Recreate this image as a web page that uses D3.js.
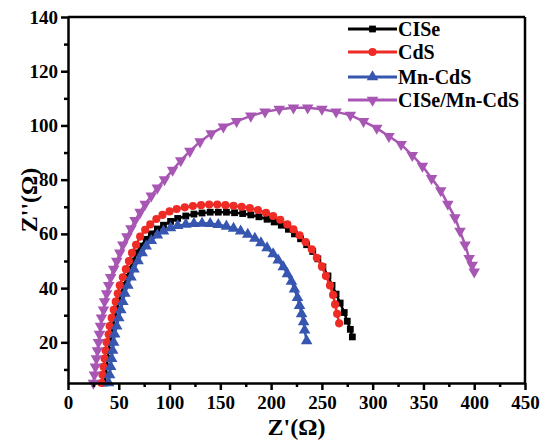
<!DOCTYPE html>
<html>
<head>
<meta charset="utf-8">
<script src="https://cdn.jsdelivr.net/npm/d3@7"></script>
<style>
  body { margin: 0; background: #fff; }
  svg { display: block; }
</style>
</head>
<body>
<div id="chart"></div>
<script>
// Nyquist data: [Z' (ohm), -Z'' (ohm)]
const ciseData = [[36,5],[37,8],[38,11],[39,14],[40,17],[41,20],[43,23],[44,26],[46,29],[48,32],[50,35],[52,38],[55,41],[58,44],[61,47],[64,50],[68,53],[72,55.5],[77,58],[82,60],[88,61.8],[94,63.2],[101,64.6],[108,65.7],[116,66.6],[124,67.3],[132,67.7],[140,68],[148,68],[156,68],[164,67.8],[172,67.5],[180,67],[188,66.3],[196,65.4],[203,64.4],[210,63.2],[217,61.7],[223,60],[229,58.2],[235,56],[241,53.5],[246,50.8],[251,47.8],[256,44.5],[260,41],[264,37.8],[268,34.5],[272,31],[275,27.8],[278,24.8],[280,22]];
const cdsData = [[33,5],[34,8],[35,11],[36,14],[37,17],[38,20],[40,23],[41,26],[43,29],[45,32],[47,35],[49,38],[51,41],[54,44],[57,47],[60,50],[63,53],[67,56],[71,59],[76,61.5],[81,63.5],[87,65.5],[93,67],[100,68.3],[107,69.2],[115,69.8],[123,70.3],[131,70.6],[139,70.8],[147,70.8],[155,70.6],[163,70.4],[171,70],[179,69.5],[187,68.8],[195,67.8],[202,66.6],[209,65.2],[216,63.5],[222,61.7],[228,59.5],[234,57],[240,54.3],[245,51.2],[250,48],[254,44.5],[258,41],[261,37.5],[263,34],[265,30.5],[267,27]];
const mnCdsData = [[40,5],[41,8],[42,11],[43,14],[44,17],[45,20],[46,23],[48,26],[50,29],[52,32],[54,35],[56,38],[59,41],[62,44],[65,47],[69,50],[73,53],[77,55.5],[82,57.5],[88,59.5],[94,61],[101,62.2],[108,63],[116,63.5],[124,63.8],[132,63.9],[140,63.8],[148,63.4],[156,62.8],[163,62],[170,61],[177,59.8],[184,58.3],[190,56.7],[196,54.8],[202,52.6],[207,50.3],[212,47.8],[216,45.2],[220,42.5],[223,39.6],[226,36.5],[228,33.5],[230,30.5],[232,27.5],[233,24.5],[235,20.5]];
const ciseMnCdsData = [[25,5],[26,8],[27,11],[28,14],[29,17],[30,20],[31,23],[32,26],[33,29],[35,32],[36,35],[38,38],[40,41],[42,44],[45,47],[48,50],[51,53],[54,56],[58,59],[62,62],[66,65],[71,68],[76,71],[82,74],[88,77],[95,80],[103,83.5],[111,87],[120,90.5],[130,94],[141,97],[153,99.5],[166,101.5],[180,103.5],[194,105],[208,106],[222,106.5],[236,106.5],[250,106],[264,105],[278,103.8],[291,101.5],[304,99],[316,96],[328,93],[339,89],[349,85],[358,80.5],[367,76],[374,71],[381,66],[386,61],[391,56],[395,51],[398,48.5],[400,46]];

const seriesNames = ["CISe", "CdS", "Mn-CdS", "CISe/Mn-CdS"];
const xTicks = [0, 50, 100, 150, 200, 250, 300, 350, 400, 450];
const yTicks = [20, 40, 60, 80, 100, 120, 140];

const series = [
  { name: seriesNames[0], data: ciseData, color: "#000000", symbol: d3.symbolSquare, size: 46, rot: 0 },
  { name: seriesNames[1], data: cdsData, color: "#ee2b25", symbol: d3.symbolCircle, size: 52, rot: 0 },
  { name: seriesNames[2], data: mnCdsData, color: "#3656b0", symbol: d3.symbolTriangle, size: 58, rot: 0 },
  { name: seriesNames[3], data: ciseMnCdsData, color: "#a856b4", symbol: d3.symbolTriangle, size: 58, rot: 180 }
];

const width = 542, height = 443;
const margin = { top: 17, right: 17, bottom: 60, left: 68 };
const font = "'Liberation Serif', 'Times New Roman', serif";

const svg = d3.select("#chart").append("svg").attr("width", width).attr("height", height);

const x = d3.scaleLinear().domain([0, 450]).range([margin.left, width - margin.right]);
const y = d3.scaleLinear().domain([5, 140]).range([height - margin.bottom, margin.top]);

const plot = svg.append("g");

// curves
const line = d3.line().x(d => x(d[0])).y(d => y(d[1]));
series.forEach(s => {
  plot.append("path").datum(s.data)
    .attr("fill", "none")
    .attr("stroke", s.color)
    .attr("stroke-width", 2.5)
    .attr("d", line);
  plot.selectAll(null).data(s.data).enter().append("path")
    .attr("d", d3.symbol().type(s.symbol).size(s.size))
    .attr("transform", d => `translate(${x(d[0])},${y(d[1])}) rotate(${s.rot})`)
    .attr("fill", s.color);
});

// axes
const xMinor = d3.range(25, 450, 50);
const yMinor = d3.range(10, 140, 20);

const xAxis = svg.append("g").attr("transform", `translate(0,${height - margin.bottom})`)
  .call(d3.axisBottom(x).tickValues(xTicks).tickSize(7).tickSizeOuter(0));
svg.append("g").attr("transform", `translate(0,${height - margin.bottom})`)
  .call(d3.axisBottom(x).tickValues(xMinor).tickSize(4).tickFormat("").tickSizeOuter(0))
  .select(".domain").remove();

const yAxis = svg.append("g").attr("transform", `translate(${margin.left},0)`)
  .call(d3.axisLeft(y).tickValues(yTicks).tickSize(7).tickSizeOuter(0));
svg.append("g").attr("transform", `translate(${margin.left},0)`)
  .call(d3.axisLeft(y).tickValues(yMinor).tickSize(4).tickFormat("").tickSizeOuter(0))
  .select(".domain").remove();

svg.selectAll(".domain, .tick line").attr("stroke", "#000").attr("stroke-width", 2.5);
svg.selectAll(".tick text")
  .style("font-family", font).style("font-weight", "bold").style("font-size", "19px").attr("fill", "#000");
xAxis.selectAll(".tick text").attr("dy", "0.9em").attr("y", 9);
yAxis.selectAll(".tick text").attr("x", -10);

// frame top and right
svg.append("line").attr("x1", x(0)).attr("x2", x(450)).attr("y1", y(140)).attr("y2", y(140))
  .attr("stroke", "#000").attr("stroke-width", 2.5);
svg.append("line").attr("x1", x(450)).attr("x2", x(450)).attr("y1", y(140)).attr("y2", y(5))
  .attr("stroke", "#000").attr("stroke-width", 2.5);

// axis titles
svg.append("text").attr("x", (margin.left + width - margin.right) / 2).attr("y", 435)
  .attr("text-anchor", "middle")
  .style("font-family", font).style("font-weight", "bold").style("font-size", "24px")
  .text("Z'(Ω)");
svg.append("text").attr("transform", "translate(37,200) rotate(-90)")
  .attr("text-anchor", "middle")
  .style("font-family", font).style("font-weight", "bold").style("font-size", "24px")
  .text("Z''(Ω)");

// legend
const legend = svg.append("g");
const legendY = [29, 52, 77, 100];
series.forEach((s, i) => {
  const g = legend.append("g").attr("transform", `translate(348,${legendY[i]})`);
  g.append("line").attr("x1", 0).attr("x2", 49).attr("y1", 0).attr("y2", 0)
    .attr("stroke", s.color).attr("stroke-width", 3);
  g.append("path").attr("d", d3.symbol().type(s.symbol).size(s.size))
    .attr("transform", `translate(24.5,0) rotate(${s.rot})`).attr("fill", s.color);
  g.append("text").attr("x", 50).attr("y", 0).attr("dy", "0.35em")
    .style("font-family", font).style("font-weight", "bold").style("font-size", "20px")
    .text(s.name);
});
</script>
</body>
</html>
